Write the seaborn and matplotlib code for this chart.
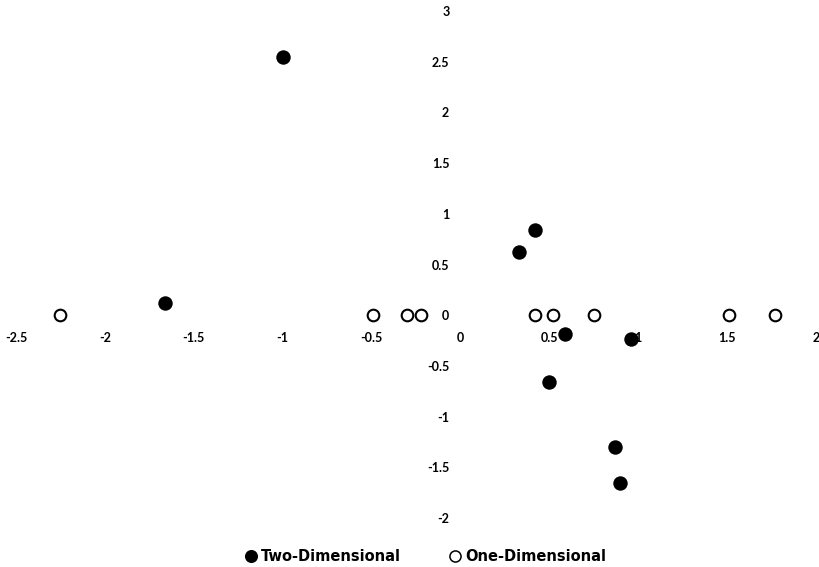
import numpy as np
import pandas as pd
import matplotlib
matplotlib.use("Agg")
import matplotlib.pyplot as plt
from matplotlib.lines import Line2D
import seaborn as sns

# two-dimensional points (filled)
two_x = [-1.0, -1.66, 0.33, 0.42, 0.59, 0.96, 0.50, 0.87, 0.90]
two_y = [2.55, 0.12, 0.62, 0.84, -0.19, -0.23, -0.66, -1.30, -1.65]

# one-dimensional points (open, all on y=0)
one_x = [-2.25, -0.49, -0.30, -0.22, 0.42, 0.52, 0.75, 1.51, 1.77]
one_y = [0, 0, 0, 0, 0, 0, 0, 0, 0]

x_ticks = [-2.5, -2, -1.5, -1, -0.5, 0, 0.5, 1, 1.5, 2]
y_ticks = [-2, -1.5, -1, -0.5, 0, 0.5, 1, 1.5, 2, 2.5, 3]

sns.set_style("white")
plt.rcParams['font.family'] = ['Lato', 'DejaVu Sans']
plt.rcParams['text.color'] = 'black'

fig = plt.figure(figsize=(8.2, 5.67), dpi=100)
ax = fig.add_axes([0.0195, 0.0864, 0.9756, 0.8942])

df_two = pd.DataFrame({'x': two_x, 'y': two_y})
df_one = pd.DataFrame({'x': one_x, 'y': one_y})

sns.scatterplot(data=df_two, x='x', y='y', ax=ax, s=108, color='black',
                edgecolor='black', linewidth=0, zorder=3, legend=False)
sns.scatterplot(data=df_one, x='x', y='y', ax=ax, s=70, facecolor='white',
                edgecolor='black', linewidth=1.5, zorder=3, legend=False)

ax.set_xlim(-2.5, 2)
ax.set_ylim(-2, 3)

ax.spines['left'].set_position('zero')
ax.spines['bottom'].set_position('zero')
for s in ['left', 'bottom', 'right', 'top']:
    ax.spines[s].set_visible(False)

def fmt(v):
    return ('%g' % v)

ax.set_xticks(x_ticks)
ax.set_xticklabels([fmt(v) for v in x_ticks])
ax.set_yticks(y_ticks)
ax.set_yticklabels([fmt(v) for v in y_ticks])
ax.tick_params(axis='both', length=0, labelsize=9, colors='black')
ax.tick_params(axis='x', pad=12)
ax.tick_params(axis='y', pad=8)
for lab in ax.get_xticklabels() + ax.get_yticklabels():
    lab.set_fontweight('bold')

ax.set_xlabel('')
ax.set_ylabel('')
ax.grid(False)

handles = [
    Line2D([], [], linestyle='none', marker='o', markersize=9.4,
           markerfacecolor='black', markeredgecolor='black', markeredgewidth=0),
    Line2D([], [], linestyle='none', marker='o', markersize=8,
           markerfacecolor='white', markeredgecolor='black', markeredgewidth=1.1),
]
labels = ['Two-Dimensional', 'One-Dimensional']
fig.legend(handles, labels, loc='center', bbox_to_anchor=(0.518, 0.018),
           ncol=2, frameon=False, handlelength=1.0, handletextpad=0.2,
           columnspacing=3.2, labelcolor='black',
           prop={'family': 'DejaVu Sans', 'size': 10.5, 'weight': 'bold'})

fig.savefig('out.png', dpi=100)
